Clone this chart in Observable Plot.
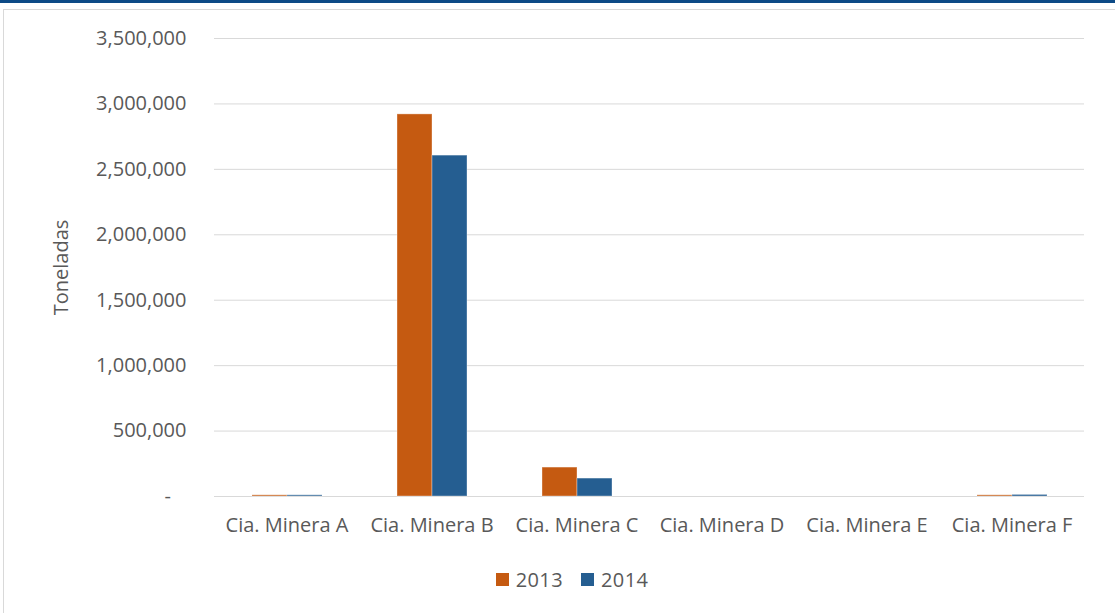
<!DOCTYPE html>
<html>
<head>
<meta charset="utf-8">
<script src="https://cdn.jsdelivr.net/npm/d3@7"></script>
<script src="https://cdn.jsdelivr.net/npm/@observablehq/plot@0.6"></script>
<style>
  html, body { margin: 0; padding: 0; background: #fff; }
  body { width: 1115px; height: 613px; overflow: hidden; position: relative; font-family: "Open Sans", sans-serif; }
  #band { position: absolute; left: 0; top: 0; width: 1115px; height: 3px; background: #0d4a86; }
  #frame { position: absolute; left: 3px; top: 9px; width: 1200px; height: 700px; border: 1px solid #d9d9d9; box-sizing: border-box; }
  #chart { position: absolute; left: 0; top: 0; }
  #legend { position: absolute; top: 566px; left: 0; width: 1115px; display: flex; justify-content: center; gap: 18px; font-size: 20px; color: #595959; padding-left: 29px; box-sizing: border-box; letter-spacing: 0.4px; }
  .item { display: flex; align-items: center; gap: 7px; }
  .sw { width: 13px; height: 13px; display: inline-block; }
</style>
</head>
<body>
<div id="band"></div>
<div id="frame"></div>
<div id="chart"></div>
<div id="legend"></div>
<script>
const categories = ["Cia. Minera A", "Cia. Minera B", "Cia. Minera C", "Cia. Minera D", "Cia. Minera E", "Cia. Minera F"];
const years = ["2013", "2014"];
const values2013 = [9000, 2920000, 221000, 0, 0, 9000];
const values2014 = [9000, 2605000, 137000, 0, 0, 12000];
const colors = ["#C55A11", "#255E91"];
const yTicks = [0, 500000, 1000000, 1500000, 2000000, 2500000, 3000000, 3500000];

const data = [];
categories.forEach((c, i) => {
  data.push({category: c, year: years[0], value: values2013[i]});
  data.push({category: c, year: years[1], value: values2014[i]});
});

const fmt = d3.format(",");
const chart = Plot.plot({
  width: 1115,
  height: 555,
  marginTop: 38,
  marginBottom: 59,
  marginLeft: 213,
  marginRight: 30,
  style: {fontFamily: "Open Sans", fontSize: "20px", color: "#595959", background: "transparent"},
  fx: {domain: categories, padding: 0, label: null},
  x: {domain: years, paddingInner: 0, paddingOuter: 1.02, axis: null},
  y: {domain: [0, 3500000], label: null},
  color: {domain: years, range: colors},
  marks: [
    Plot.gridY(yTicks, {stroke: "#d9d9d9", strokeOpacity: 1, strokeWidth: 1}),
    Plot.barY(data, {fx: "category", x: "year", y: "value", fill: "year", stroke: "white", strokeOpacity: 0.35, strokeWidth: 1}),
    Plot.axisY(yTicks, {tickSize: 0, tickPadding: 28, tickFormat: d => d === 0 ? "-\u00a0\u00a0\u00a0" : fmt(d), label: "Toneladas", labelAnchor: "center", labelOffset: 161, labelArrow: "none", fontSize: 20, style: {letterSpacing: "0.4px"}}),
    Plot.axisFx({anchor: "bottom", tickSize: 0, tickPadding: 21, label: null, fontSize: 20})
  ]
});
document.getElementById("chart").appendChild(chart);

const legend = document.getElementById("legend");
years.forEach((y, i) => {
  const item = document.createElement("div");
  item.className = "item";
  const sw = document.createElement("span");
  sw.className = "sw";
  sw.style.background = colors[i];
  const t = document.createElement("span");
  t.textContent = y;
  item.appendChild(sw);
  item.appendChild(t);
  legend.appendChild(item);
});
</script>
</body>
</html>
